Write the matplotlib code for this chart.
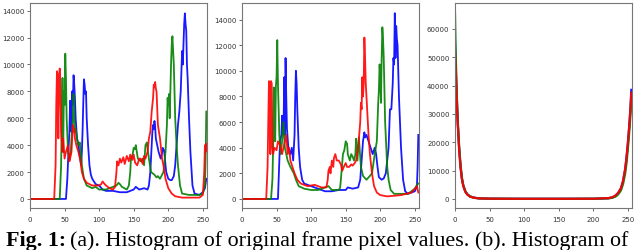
import numpy as np
import matplotlib
matplotlib.use("Agg")
import matplotlib.pyplot as plt

# ---- panel (a): original frame histogram ----
a_blue_x = [0, 52, 54, 56, 57, 58, 59, 60, 61, 62, 63, 64, 65, 66, 68, 70, 72, 74, 75, 76, 77, 78, 79, 80, 81, 82,
            84, 86, 88, 90, 95, 100, 105, 110, 120, 130, 140, 150, 153, 158, 165, 170, 172, 174, 175, 176, 177, 178,
            179, 180, 181, 182, 184, 186, 189, 191, 192, 194, 196, 197, 200, 203, 205, 208, 210, 212, 214, 215, 216,
            218, 219, 220, 221, 222, 223, 224, 225, 226, 227, 228, 230, 232, 235, 238, 245, 250, 253, 255]
a_blue_y = [0, 0, 1500, 4000, 5000, 7300, 6000, 5000, 8000, 7000, 9200, 8500, 7500, 6000, 4500, 4000, 3200, 2500,
            3500, 5000, 7000, 8900, 8500, 7800, 8000, 6000, 4000, 2500, 1800, 1500, 1100, 1000, 700, 600, 600, 500,
            500, 700, 900, 700, 800, 700, 1000, 2000, 3000, 4000, 5000, 5500, 5200, 5800, 5400, 4500, 4000, 3500,
            3000, 3400, 3800, 3600, 2500, 2000, 1500, 1400, 1400, 1700, 2500, 4000, 5500, 6000, 6500, 8000, 9500,
            11000, 10000, 11500, 13000, 13800, 13000, 12500, 10000, 9000, 6000, 3500, 1000, 400, 300, 500, 800, 1500]

a_green_x = [0, 43, 45, 46, 47, 48, 49, 50, 51, 52, 53, 55, 57, 59, 60, 62, 63, 64, 65, 66, 68, 70, 72, 75, 78, 82,
             90, 95, 100, 110, 120, 125, 128, 130, 133, 140, 143, 145, 146, 148, 150, 152, 153, 156, 160, 163, 165,
             167, 169, 172, 175, 180, 183, 185, 188, 190, 193, 196, 198, 199, 200, 201, 202, 203, 204, 205, 206,
             207, 208, 210, 212, 214, 217, 220, 230, 245, 250, 253, 254, 255]
a_green_y = [0, 0, 2500, 6000, 9000, 3500, 8000, 7000, 10800, 9000, 6000, 3500, 3000, 3500, 4500, 6000, 7800, 6000,
             5000, 5200, 4500, 4000, 4200, 2500, 1500, 1000, 800, 900, 700, 700, 900, 1000, 1200, 1100, 900, 700,
             1000, 2000, 3000, 3200, 3800, 3700, 4000, 3000, 2800, 3000, 2500, 4000, 4200, 3000, 2000, 1800, 1600,
             1700, 1500, 1700, 2000, 3500, 5500, 7500, 7000, 7800, 6000, 8000, 10000, 11500, 12100, 11000, 10000,
             6000, 4000, 2500, 1000, 400, 300, 300, 400, 1000, 3000, 6500]

a_red_x = [0, 35, 37, 38, 39, 40, 41, 42, 43, 44, 45, 47, 48, 50, 52, 55, 57, 58, 60, 62, 63, 64, 65, 67, 70, 73, 75,
           78, 82, 90, 100, 103, 105, 108, 110, 115, 120, 123, 125, 126, 128, 130, 132, 135, 137, 140, 143, 145,
           148, 150, 152, 155, 158, 160, 163, 165, 167, 170, 172, 174, 176, 178, 179, 180, 181, 182, 183, 185, 188,
           191, 193, 196, 200, 205, 210, 220, 235, 245, 250, 252, 253, 254, 255]
a_red_y = [0, 0, 2500, 7000, 9500, 9300, 4500, 8500, 9700, 8000, 5000, 3500, 4500, 3000, 3500, 4000, 2800, 3000,
           3500, 5500, 5000, 5200, 4500, 4000, 3500, 2800, 2000, 1500, 1200, 1000, 1000, 1100, 1300, 1100, 1000,
           800, 700, 900, 2000, 2800, 2500, 3000, 2700, 3100, 2600, 3200, 2800, 3300, 2900, 3300, 2700, 2500,
           3000, 3000, 2600, 3200, 3000, 3500, 4500, 5000, 6500, 7500, 8500, 8300, 8700, 8200, 8000, 5500, 4500,
           3000, 2500, 1500, 800, 400, 200, 100, 100, 100, 300, 2000, 4000, 3500, 4100]

# ---- panel (b) ----
b_blue_x = [0, 52, 55, 57, 58, 59, 60, 61, 62, 63, 64, 65, 67, 70, 72, 74, 75, 76, 77, 78, 79, 80, 82, 84, 87, 90,
            100, 110, 120, 130, 140, 150, 153, 160, 168, 171, 173, 175, 177, 178, 180, 183, 186, 189, 192, 194, 196,
            198, 202, 205, 208, 210, 212, 214, 216, 218, 219, 220, 221, 222, 223, 224, 225, 227, 230, 233, 236,
            240, 250, 253, 254, 255]
b_blue_y = [0, 0, 4500, 5000, 6500, 5500, 5000, 9500, 5000, 11000, 8000, 5500, 4000, 3500, 4000, 3000, 4000, 5000,
            8000, 10000, 9000, 7000, 4000, 2500, 1500, 1200, 1000, 800, 600, 600, 700, 700, 900, 800, 900, 1500,
            3000, 4500, 5200, 4800, 5000, 4500, 4000, 3500, 4000, 3500, 2500, 1700, 1500, 1600, 2000, 3000, 4000,
            7000, 7000, 9000, 11000, 10500, 14500, 11000, 13500, 12500, 12000, 8000, 4000, 1500, 600, 400, 600,
            1000, 2500, 5000]

b_green_x = [0, 42, 44, 45, 46, 47, 48, 49, 50, 51, 52, 54, 56, 58, 60, 62, 66, 70, 75, 78, 82, 90, 100, 110, 120,
             125, 130, 140, 142, 143, 146, 148, 150, 152, 153, 156, 158, 160, 162, 164, 165, 167, 169, 172, 175,
             180, 185, 188, 192, 195, 197, 198, 199, 200, 201, 202, 203, 204, 205, 207, 210, 212, 215, 220, 240,
             250, 253, 255]
b_green_y = [0, 0, 1500, 4000, 8700, 8000, 4500, 8800, 9500, 12400, 9000, 5000, 3500, 4500, 6000, 4000, 3000, 2500,
             2000, 1500, 1000, 800, 700, 700, 900, 1000, 700, 700, 900, 1500, 3500, 3800, 4500, 4300, 3500, 3000,
             3500, 3300, 3000, 3500, 4700, 3000, 4800, 2500, 1800, 1500, 1800, 2000, 3500, 4500, 7500, 8500, 10500,
             9500, 7500, 11000, 13400, 12500, 11000, 6000, 2500, 1500, 700, 400, 400, 800, 1100, 1200]

b_red_x = [0, 35, 37, 38, 39, 40, 41, 42, 43, 44, 45, 47, 50, 52, 55, 58, 60, 62, 64, 66, 68, 70, 73, 76, 80, 85,
           95, 105, 110, 115, 122, 124, 125, 127, 128, 130, 132, 133, 135, 137, 140, 143, 145, 148, 150, 152, 155,
           158, 160, 163, 165, 168, 171, 172, 173, 174, 175, 176, 177, 178, 179, 180, 182, 183, 185, 188, 191,
           195, 200, 210, 230, 245, 250, 253, 255]
b_red_y = [0, 0, 2500, 6000, 9200, 9000, 3500, 9200, 9000, 4000, 3500, 4000, 3800, 4500, 4200, 3500, 4000, 4500,
           5000, 3500, 4000, 3000, 2500, 2000, 1500, 1200, 1000, 1100, 1000, 900, 900, 1500, 2200, 2500, 2000,
           3000, 2500, 3200, 3500, 3000, 3000, 2700, 2200, 2600, 2800, 2500, 2500, 2700, 2600, 2800, 3000, 4000,
           6000, 7500, 7000, 9500, 8000, 9000, 12600, 11000, 9000, 8000, 6000, 5000, 3500, 2000, 1000, 500,
           300, 200, 300, 500, 800, 1000, 500]

# ---- panel (c) ----
c_x = [0, 1, 2, 3, 4, 6, 8, 10, 12, 15, 18, 22, 28, 35, 50, 100, 150, 200, 222, 228, 232, 236, 240, 243, 246,
       248, 250, 252, 254, 255]
c_blue_y = [55000, 47000, 40000, 33000, 27000, 18000, 11500, 7200, 4700, 2600, 1600, 850, 420, 200, 100, 50, 50,
            80, 250, 600, 1100, 2100, 3700, 6200, 10200, 14300, 19500, 25500, 33000, 38500]
c_green_y = [65500, 52000, 42000, 34000, 27500, 18500, 12000, 7500, 4800, 2700, 1600, 850, 420, 200, 100, 50, 50,
             80, 200, 450, 800, 1600, 3000, 5200, 8800, 12500, 17500, 23500, 30500, 36000]
c_red_y = [52000, 45000, 38500, 32000, 26000, 17000, 11000, 7000, 4500, 2500, 1500, 800, 400, 200, 100, 50, 50,
           80, 300, 650, 1200, 2200, 3800, 6400, 10500, 14600, 19800, 25800, 32800, 37500]

panels = [
    dict(b=(a_blue_x, a_blue_y), g=(a_green_x, a_green_y), r=(a_red_x, a_red_y),
         ylim=(-673, 14572), yticks=np.arange(0, 14001, 2000), left=30),
    dict(b=(b_blue_x, b_blue_y), g=(b_green_x, b_green_y), r=(b_red_x, b_red_y),
         ylim=(-706, 15294), yticks=np.arange(0, 14001, 2000), left=242),
    dict(b=(c_x, c_blue_y), g=(c_x, c_green_y), r=(c_x, c_red_y),
         ylim=(-3190, 69150), yticks=np.arange(0, 60001, 10000), left=455),
]

W, H = 640, 251
fig = plt.figure(figsize=(W / 100, H / 100), dpi=100)

for i, p in enumerate(panels):
    ax = fig.add_axes([p["left"] / W, 1 - 209 / H, 177 / W, 205 / H])
    for col in ("b", "g", "r"):
        xs, ys = p[col]
        ax.plot(xs, ys, color=col, lw=1.6 if i == 2 else 1.3, alpha=0.9)
    ax.set_xlim(0, 256)
    ax.set_ylim(*p["ylim"])
    ax.set_xticks(np.arange(0, 251, 50))
    ax.set_yticks(p["yticks"])
    ax.tick_params(labelsize=5.0, length=2.5, width=0.5, pad=1.5, colors="#333333")
    ax.tick_params(axis="x", pad=3.5)
    for s in ax.spines.values():
        s.set_color("#777777")
        s.set_linewidth(0.8)

# caption: bold "Fig. 1:" then regular text
cap_y = 4.8 / H
t1 = fig.text(6 / W, cap_y, "Fig. 1:", fontsize=15.8, fontweight="bold",
              family="Liberation Serif", va="baseline")
fig.canvas.draw()
bb = t1.get_window_extent()
fig.text((bb.x1 + 4) / W, cap_y,
         "(a). Histogram of original frame pixel values. (b). Histogram of",
         fontsize=15.8, family="Liberation Serif", va="baseline")

fig.savefig("out.png", dpi=100)
